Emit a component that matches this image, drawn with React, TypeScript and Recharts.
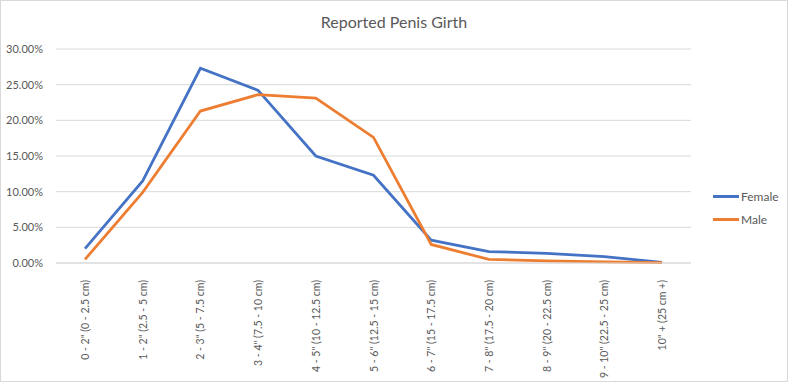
import { LineChart, Line, XAxis, YAxis, CartesianGrid } from "recharts";

const categories = [
  '0 - 2" (0 - 2.5 cm)',
  '1 - 2" (2.5 - 5 cm)',
  '2 - 3" (5 - 7.5 cm)',
  '3 - 4" (7.5 - 10 cm)',
  '4 - 5" (10 - 12.5 cm)',
  '5 - 6" (12.5 - 15 cm)',
  '6 - 7" (15 - 17.5 cm)',
  '7 - 8" (17.5 - 20 cm)',
  '8 - 9" (20 - 22.5 cm)',
  '9 - 10" (22.5 - 25 cm)',
  '10" + (25 cm +)',
];

// percentages
const female = [2.0, 11.5, 27.3, 24.2, 15.0, 12.3, 3.2, 1.6, 1.35, 0.9, 0.1];
const male = [0.5, 9.9, 21.3, 23.6, 23.1, 17.6, 2.6, 0.5, 0.3, 0.15, 0.05];

const yTicks = [0, 5, 10, 15, 20, 25, 30];

const legendItems = [
  { label: "Female", color: "#4472C4" },
  { label: "Male", color: "#ED7D31" },
];

const data = categories.map((c, i) => ({ name: c, female: female[i], male: male[i] }));

const FONT = "Lato, 'Open Sans', sans-serif";
const TEXT = "#595959";

function CategoryTick(props: any) {
  const { x, y, payload } = props;
  return (
    <text
      transform={`translate(${x + 4},${y + 9}) rotate(-90)`}
      textAnchor="end"
      fontSize={10.5}
      fontFamily={FONT}
      fill={TEXT}
    >
      {payload.value}
    </text>
  );
}

export default function App() {
  return (
    <div
      style={{
        position: "absolute",
        left: 0,
        top: 0,
        width: 788,
        height: 382,
        boxSizing: "border-box",
        border: "1px solid #d9d9d9",
        background: "#fff",
      }}
    >
      <div
        style={{
          position: "absolute",
          left: 0,
          top: 11,
          width: 786,
          textAlign: "center",
          fontFamily: FONT,
          fontSize: 16,
          color: TEXT,
        }}
      >
        Reported Penis Girth
      </div>
      <div style={{ position: "absolute", left: -1, top: -1 }}>
        <LineChart
          width={788}
          height={382}
          data={data}
          margin={{ top: 49, right: 97, bottom: 0, left: 0 }}
        >
          <CartesianGrid vertical={false} stroke="#d9d9d9" />
          <XAxis
            dataKey="name"
            interval={0}
            height={119}
            padding={{ left: 29, right: 29 }}
            tickLine={false}
            axisLine={{ stroke: "#d9d9d9" }}
            tick={<CategoryTick />}
          />
          <YAxis
            width={56}
            domain={[0, 30]}
            ticks={yTicks}
            axisLine={false}
            tickLine={false}
            tickMargin={7}
            tick={{ fontSize: 11, fontFamily: FONT, fill: TEXT }}
            tickFormatter={(v) => `${v.toFixed(2)}%`}
          />
          <Line
            dataKey="female"
            name="Female"
            stroke="#4472C4"
            strokeWidth={2.75}
            dot={false}
            isAnimationActive={false}
          />
          <Line
            dataKey="male"
            name="Male"
            stroke="#ED7D31"
            strokeWidth={2.75}
            dot={false}
            isAnimationActive={false}
          />
        </LineChart>
      </div>
      <div
        style={{
          position: "absolute",
          left: 712,
          top: 184,
          fontFamily: FONT,
          fontSize: 12,
          color: TEXT,
        }}
      >
        {legendItems.map((it) => (
          <div key={it.label} style={{ display: "flex", alignItems: "center", height: 23 }}>
            <div style={{ width: 26, height: 3, background: it.color, marginRight: 2 }} />
            <span>{it.label}</span>
          </div>
        ))}
      </div>
    </div>
  );
}
